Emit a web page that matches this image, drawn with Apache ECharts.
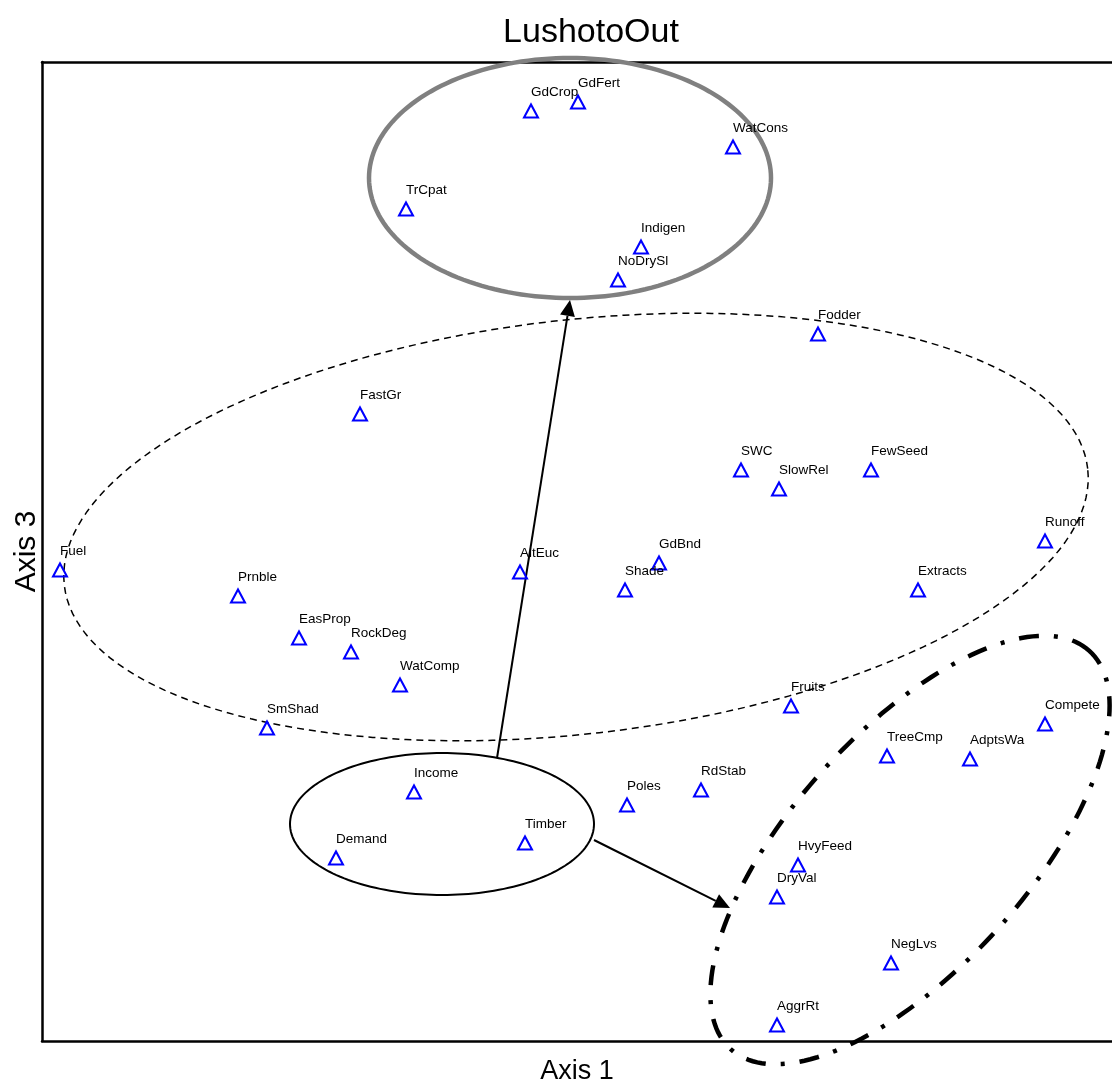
<!DOCTYPE html>
<html>
<head>
    <meta charset="utf-8">
    <title>LushotoOut</title>
    <script src="https://cdn.jsdelivr.net/npm/echarts@6/dist/echarts.min.js"></script>
</head>
<body style="margin:0">

<div id="main" style="width: 1112px;height:1084px;"></div>

<script type="text/javascript">

    // ordination scores (axis 1, axis 3)
    var names = ['GdCrop', 'GdFert', 'WatCons', 'TrCpat', 'Indigen', 'NoDrySl', 'Fodder', 'FastGr',
        'SWC', 'SlowRel', 'FewSeed', 'Runoff', 'Extracts', 'Fuel', 'Prnble', 'EasProp', 'RockDeg',
        'WatComp', 'SmShad', 'AltEuc', 'GdBnd', 'Shade', 'Income', 'Demand', 'Timber', 'Poles',
        'RdStab', 'Fruits', 'TreeCmp', 'AdptsWa', 'Compete', 'HvyFeed', 'DryVal', 'NegLvs', 'AggrRt'];
    var axis1 = [489, 536, 691, 364, 599, 576, 776, 318,
        699, 737, 829, 1003, 876, 18, 196, 257, 309,
        358, 225, 478, 617, 583, 372, 294, 483, 585,
        659, 749, 845, 928, 1003, 756, 735, 849, 735];
    var axis3 = [930, 939, 894, 832, 794, 761, 707, 627,
        571, 552, 571, 500, 451, 471, 445, 403, 389,
        356, 313, 469, 478, 451, 249, 183, 198, 236,
        251, 335, 285, 282, 317, 176, 144, 78, 16];

    // group ellipses: centre x, centre y, half axis a, half axis b, rotation (deg)
    var ellCx = [528, 534, 400, 868];
    var ellCy = [863, 514, 217, 191];
    var ellA = [201, 515, 152, 268];
    var ellB = [120, 207, 71, 118];
    var ellRot = [0, 6.5, 0, 48];

    // arrows: from (x0, y0) to (x1, y1)
    var arrX0 = [455, 552];
    var arrY0 = [283, 201];
    var arrX1 = [528, 688];
    var arrY1 = [741, 133];

    var ellStyles = [
        {stroke: '#808080', lineWidth: 4.5},
        {stroke: '#000', lineWidth: 1.5, lineDash: [7, 5]},
        {stroke: '#000', lineWidth: 2},
        {stroke: '#000', lineWidth: 4.5, lineDash: [20, 15, 4, 15]}
    ];

    var points = [];
    for (var i = 0; i < names.length; i++) {
        points.push({name: names[i], value: [axis1[i], axis3[i]]});
    }
    var ellData = [];
    for (var i = 0; i < ellCx.length; i++) {
        ellData.push([ellCx[i], ellCy[i], ellA[i], ellB[i], ellRot[i]]);
    }
    var arrData = [];
    for (var i = 0; i < arrX0.length; i++) {
        arrData.push([arrX0[i], arrY0[i], arrX1[i], arrY1[i]]);
    }

    var font = "'Liberation Sans', Arial, sans-serif";
    var myChart = echarts.init(document.getElementById('main'));

    myChart.setOption({
        animation: false,
        backgroundColor: '#fff',
        title: {
            text: 'LushotoOut',
            left: 586,
            top: 11,
            textAlign: 'center',
            textStyle: {fontFamily: font, fontSize: 34, fontWeight: 'normal', color: '#000'}
        },
        grid: {left: 42, top: 62, right: 0, bottom: 43, outerBoundsMode: 'none', containLabel: false},
        xAxis: [
            {
                type: 'value', min: 0, max: 1070,
                name: 'Axis 1', nameLocation: 'middle', nameGap: 17,
                nameTextStyle: {fontFamily: font, fontSize: 27, color: '#000', verticalAlign: 'top'},
                axisLine: {onZero: false, lineStyle: {color: '#000', width: 2.5}},
                axisTick: {show: false}, axisLabel: {show: false}, splitLine: {show: false}
            },
            {
                type: 'value', min: 0, max: 1070, position: 'top',
                axisLine: {onZero: false, lineStyle: {color: '#000', width: 2.5}},
                axisTick: {show: false}, axisLabel: {show: false}, splitLine: {show: false}
            }
        ],
        yAxis: {
            type: 'value', min: 0, max: 979,
            name: 'Axis 3', nameLocation: 'middle', nameGap: 0,
            nameTextStyle: {fontFamily: font, fontSize: 30, color: '#000'},
            axisLine: {onZero: false, lineStyle: {color: '#000', width: 2.5}},
            axisTick: {show: false}, axisLabel: {show: false}, splitLine: {show: false}
        },
        series: [
            {
                type: 'custom',
                clip: false,
                z: 1,
                silent: true,
                data: ellData,
                renderItem: function (params, api) {
                    var cx = api.value(0), cy = api.value(1);
                    var a = api.value(2), b = api.value(3);
                    var r = api.value(4) * Math.PI / 180;
                    var pts = [];
                    for (var k = 0; k < 180; k++) {
                        var t = k / 180 * Math.PI * 2;
                        var ex = a * Math.cos(t), ey = b * Math.sin(t);
                        pts.push(api.coord([cx + ex * Math.cos(r) - ey * Math.sin(r),
                            cy + ex * Math.sin(r) + ey * Math.cos(r)]));
                    }
                    var st = ellStyles[params.dataIndex];
                    return {
                        type: 'polygon',
                        shape: {points: pts},
                        style: {fill: 'none', stroke: st.stroke, lineWidth: st.lineWidth, lineDash: st.lineDash || null}
                    };
                }
            },
            {
                type: 'custom',
                clip: false,
                z: 2,
                silent: true,
                data: arrData,
                renderItem: function (params, api) {
                    var p0 = api.coord([api.value(0), api.value(1)]);
                    var p1 = api.coord([api.value(2), api.value(3)]);
                    var dx = p1[0] - p0[0], dy = p1[1] - p0[1];
                    var len = Math.sqrt(dx * dx + dy * dy);
                    var ux = dx / len, uy = dy / len;
                    var hl = 16, hw = 7.5;
                    var bx = p1[0] - ux * hl, by = p1[1] - uy * hl;
                    return {
                        type: 'group',
                        children: [
                            {
                                type: 'line',
                                shape: {x1: p0[0], y1: p0[1], x2: bx, y2: by},
                                style: {stroke: '#000', lineWidth: 2}
                            },
                            {
                                type: 'polygon',
                                shape: {points: [p1, [bx - uy * hw, by + ux * hw], [bx + uy * hw, by - ux * hw]]},
                                style: {fill: '#000'}
                            }
                        ]
                    };
                }
            },
            {
                type: 'scatter',
                z: 3,
                symbol: 'triangle',
                symbolSize: [14, 13],
                itemStyle: {color: 'rgba(0,0,0,0)', borderColor: '#0000ff', borderWidth: 2, opacity: 1},
                label: {
                    show: true,
                    position: 'top',
                    distance: 4,
                    align: 'left',
                    formatter: '{b}',
                    fontFamily: font,
                    fontSize: 13.5,
                    color: '#000'
                },
                data: points
            }
        ]
    });

</script>
</body>
</html>
